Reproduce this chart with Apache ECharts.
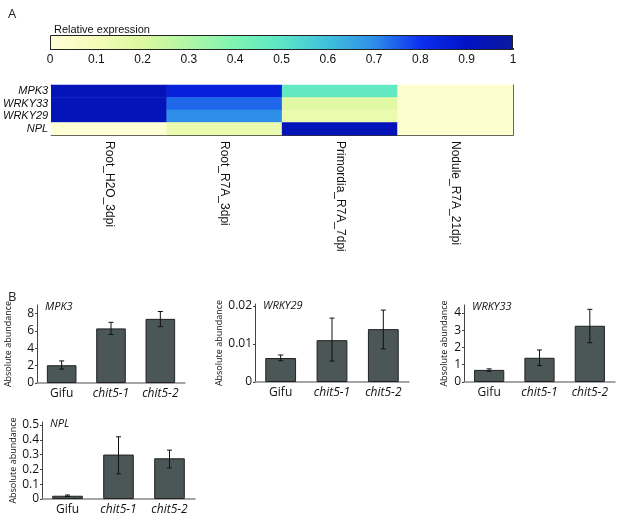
<!DOCTYPE html>
<html>
<head>
<meta charset="utf-8">
<script src="https://cdn.jsdelivr.net/npm/echarts@6/dist/echarts.min.js"></script>
<style>
  html, body { margin: 0; padding: 0; background: #fff; }
  #chart { width: 617px; height: 516px; }
</style>
</head>
<body>
<div id="chart"></div>
<script>
// ---- heatmap (panel A) ----
var genes = ['MPK3', 'WRKY33', 'WRKY29', 'NPL'];
var stages = ['Root_H2O_3dpi', 'Root_R7A_3dpi', 'Primordia_R7A_7dpi', 'Nodule_R7A_21dpi'];
var mpk3Rel = [0.93, 0.85, 0.48, 0.02];
var wrky33Rel = [0.93, 0.74, 0.18, 0.02];
var wrky29Rel = [0.93, 0.70, 0.14, 0.02];
var nplRel = [0.01, 0.14, 0.93, 0.02];
var colorTicks = [0, 0.1, 0.2, 0.3, 0.4, 0.5, 0.6, 0.7, 0.8, 0.9, 1];

// ---- bar charts (panel B) ----
var lines = ['Gifu', 'chit5-1', 'chit5-2'];
var mpk3Mean = [2.05, 6.3, 7.4];
var mpk3Low = [1.6, 5.6, 6.5];
var mpk3High = [2.55, 7.0, 8.25];
var wrky29Mean = [0.0063, 0.011, 0.0139];
var wrky29Low = [0.0056, 0.0055, 0.0087];
var wrky29High = [0.0071, 0.0168, 0.0189];
var wrky33Mean = [0.7, 1.4, 3.25];
var wrky33Low = [0.62, 0.95, 2.27];
var wrky33High = [0.76, 1.85, 4.2];
var nplMean = [0.022, 0.3, 0.275];
var nplLow = [0.017, 0.17, 0.21];
var nplHigh = [0.027, 0.42, 0.33];

var palette = ['#ffffd6', '#f4fcb8', '#dcf8a0', '#b0f6a6', '#7ef4b2', '#5ce6c6',
               '#40c0dc', '#2e8ee8', '#0c30f0', '#0212c6', '#0a1a9c'];

var narrow = "Liberation Sans";
var sans = "Open Sans";

var heatData = [];
[mpk3Rel, wrky33Rel, wrky29Rel, nplRel].forEach(function (row, gi) {
    row.forEach(function (v, si) {
        heatData.push([si, gi, v]);
    });
});

var chart = echarts.init(document.getElementById('chart'));

// one bar panel: grid + axes + bars + error bars
var barGrids = [
    { left: 37, top: 305, width: 148, height: 78, max: 9, interval: 2, gap: 24, name: 'MPK3', mean: mpk3Mean, low: mpk3Low, high: mpk3High },
    { left: 255, top: 304, width: 154, height: 78, max: 0.0205, interval: 0.01, gap: 24, name: 'WRKY29', mean: wrky29Mean, low: wrky29Low, high: wrky29High },
    { left: 464, top: 305, width: 151, height: 77, max: 4.45, interval: 1, gap: 15, name: 'WRKY33', mean: wrky33Mean, low: wrky33Low, high: wrky33High },
    { left: 42, top: 422, width: 153, height: 78, max: 0.52, interval: 0.1, gap: 23, name: 'NPL', mean: nplMean, low: nplLow, high: nplHigh }
];

var grids = [
    { left: 50, top: 35, width: 463, height: 15 },   // colour bar
    { left: 50, top: 85, width: 463, height: 50 }    // heatmap
];
var xAxes = [
    {
        gridIndex: 0, type: 'value', min: 0, max: 1, interval: 0.1,
        axisLine: { show: false }, splitLine: { show: false },
        axisTick: { show: true, inside: true, length: 2, lineStyle: { color: '#333' } },
        axisLabel: { fontFamily: narrow, fontSize: 12, color: '#111', margin: 4 }
    },
    {
        gridIndex: 1, type: 'category', data: stages,
        axisLine: { lineStyle: { color: '#333' } },
        axisTick: { alignWithLabel: true, length: 3, lineStyle: { color: '#333' } },
        axisLabel: { interval: 0, rotate: -90, fontFamily: narrow, fontSize: 12, color: '#111', margin: 6 }
    },
    {
        gridIndex: 1, type: 'category', data: stages, position: 'top',
        axisLine: { lineStyle: { color: '#333' } }, axisTick: { show: false }, axisLabel: { show: false }
    }
];
var yAxes = [
    { gridIndex: 0, type: 'category', data: ['cb'], show: false },
    {
        gridIndex: 1, type: 'category', data: genes, inverse: true,
        axisLine: { lineStyle: { color: '#333' } }, axisTick: { show: false },
        axisLabel: { interval: 0, fontFamily: narrow, fontStyle: 'italic', fontSize: 11, color: '#111', margin: 3 }
    },
    {
        gridIndex: 1, type: 'category', data: genes, inverse: true, position: 'right',
        axisLine: { lineStyle: { color: '#333' } }, axisTick: { show: false }, axisLabel: { show: false }
    }
];

var series = [
    {
        type: 'bar', xAxisIndex: 0, yAxisIndex: 0, data: [1], barWidth: '100%', silent: true,
        itemStyle: {
            borderColor: '#222', borderWidth: 1,
            color: new echarts.graphic.LinearGradient(0, 0, 1, 0, palette.map(function (c, i) {
                return { offset: colorTicks[i], color: c };
            }))
        }
    },
    {
        type: 'heatmap', xAxisIndex: 1, yAxisIndex: 1, data: heatData
    }
];

var titles = [
    { text: 'A', left: 3, top: 3, textStyle: { fontFamily: sans, fontSize: 13, fontWeight: 'normal', color: '#222' } },
    { text: 'B', left: 3, top: 286, textStyle: { fontFamily: sans, fontSize: 13, fontWeight: 'normal', color: '#222' } },
    { text: 'Relative expression', left: 49, top: 19, textStyle: { fontFamily: narrow, fontSize: 11, fontWeight: 'normal', color: '#111' } }
];

barGrids.forEach(function (b, k) {
    var gi = grids.length;
    grids.push({ left: b.left, top: b.top, width: b.width, height: b.height });
    var xi = xAxes.length;
    var yi = yAxes.length;
    xAxes.push({
        gridIndex: gi, type: 'category', data: lines,
        axisLine: { lineStyle: { color: '#888', width: 1.5 } },
        axisTick: { show: false },
        axisLabel: {
            interval: 0, margin: 5, fontFamily: sans, fontSize: 12, color: '#111',
            formatter: function (v, i) { return i === 0 ? v : '{i|' + v + '}'; },
            rich: { i: { fontFamily: sans, fontSize: 12, fontStyle: 'italic', color: '#111' } }
        }
    });
    yAxes.push({
        gridIndex: gi, type: 'value', min: 0, max: b.max, interval: b.interval,
        name: 'Absolute abundance', nameLocation: 'middle', nameGap: b.gap,
        nameTextStyle: { fontFamily: sans, fontSize: 9, color: '#111' },
        axisLine: { show: true, lineStyle: { color: '#444', width: 1 } },
        axisTick: { show: true, length: 2, lineStyle: { color: '#444' } },
        splitLine: { show: false },
        axisLabel: { showMaxLabel: false, margin: 3, fontFamily: sans, fontSize: 12, color: '#111' }
    });
    series.push({
        type: 'bar', xAxisIndex: xi, yAxisIndex: yi, data: b.mean, barWidth: '60%',
        itemStyle: { color: '#4b5657', borderColor: '#222', borderWidth: 1 }
    });
    series.push({
        type: 'custom', xAxisIndex: xi, yAxisIndex: yi,
        data: b.mean.map(function (m, i) { return [i, b.low[i], b.high[i]]; }),
        renderItem: function (params, api) {
            var lo = api.coord([api.value(0), api.value(1)]);
            var hi = api.coord([api.value(0), api.value(2)]);
            var w = 2.5;
            var st = { stroke: '#111', lineWidth: 1 };
            return {
                type: 'group',
                children: [
                    { type: 'line', shape: { x1: lo[0], y1: lo[1], x2: hi[0], y2: hi[1] }, style: st },
                    { type: 'line', shape: { x1: lo[0] - w, y1: lo[1], x2: lo[0] + w, y2: lo[1] }, style: st },
                    { type: 'line', shape: { x1: hi[0] - w, y1: hi[1], x2: hi[0] + w, y2: hi[1] }, style: st }
                ]
            };
        },
        z: 3
    });
    titles.push({
        text: b.name, left: b.left + 3, top: b.top - 9,
        textStyle: { fontFamily: sans, fontSize: 11, fontStyle: 'italic', fontWeight: 'normal', color: '#111' }
    });
});

var option = {
    animation: false,
    backgroundColor: '#fff',
    title: titles,
    grid: grids,
    xAxis: xAxes,
    yAxis: yAxes,
    visualMap: {
        show: false, type: 'continuous', seriesIndex: 1, min: 0, max: 1,
        inRange: { color: palette }
    },
    series: series
};

chart.setOption(option);
</script>
</body>
</html>
